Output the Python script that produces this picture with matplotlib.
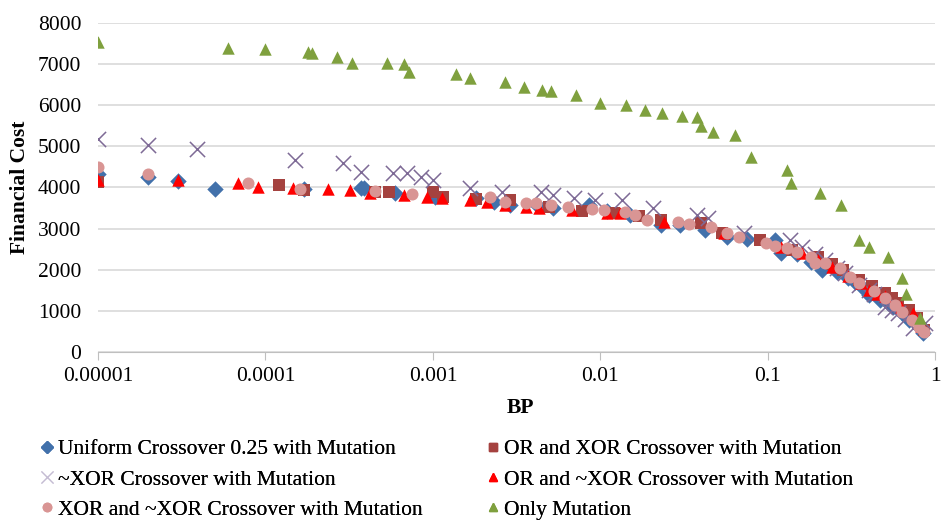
import matplotlib
matplotlib.use("Agg")
import matplotlib.pyplot as plt
from matplotlib.lines import Line2D

plt.rcParams['font.family'] = ['Liberation Serif', 'DejaVu Serif']

# podaci (BP, financijski trosak) procitani sa slike
uni_bp = [1e-5, 2e-5, 3e-5, 5e-5, 1.7e-4, 3.7e-4, 3.9e-4, 5.9e-4, 1.03e-3, 1.8e-3, 2.3e-3,
          2.9e-3, 4.2e-3, 5.2e-3, 8.5e-3, 0.011, 0.015, 0.023, 0.03, 0.042, 0.057, 0.075,
          0.11, 0.12, 0.15, 0.18, 0.21, 0.26, 0.3, 0.33, 0.37, 0.4, 0.47, 0.52, 0.56, 0.63,
          0.7, 0.84]
uni_cost = [4330, 4260, 4160, 3960, 3960, 3990, 3980, 3870, 3780, 3740, 3650,
            3580, 3580, 3500, 3580, 3430, 3330, 3090, 3100, 2970, 2800, 2750,
            2720, 2410, 2380, 2200, 2000, 1950, 1800, 1700, 1550, 1390, 1270, 1180, 1100, 950,
            780, 460]

orxor_bp = [1e-5, 1.2e-4, 1.7e-4, 4.5e-4, 5.5e-4, 1.0e-3, 1.15e-3, 1.8e-3, 2.9e-3, 4.9e-3,
            7.8e-3, 0.012, 0.017, 0.023, 0.04, 0.053, 0.09, 0.14, 0.2, 0.24, 0.28, 0.35, 0.42,
            0.5, 0.55, 0.6, 0.7, 0.78, 0.85]
orxor_cost = [4130, 4060, 3940, 3880, 3880, 3880, 3780, 3720, 3700, 3530,
              3430, 3380, 3300, 3210, 3130, 2890, 2720, 2480, 2310, 2150, 2000, 1750, 1600,
              1430, 1320, 1200, 1020, 820, 540]

nxor_bp = [1e-5, 2e-5, 3.9e-5, 1.5e-4, 2.9e-4, 3.7e-4, 5.8e-4, 7e-4, 8.5e-4, 1e-3, 1.67e-3,
           2.6e-3, 4.4e-3, 5.2e-3, 7e-3, 9.3e-3, 0.0134, 0.0205, 0.0377, 0.044, 0.072,
           0.135, 0.16, 0.19, 0.22, 0.26, 0.29, 0.35, 0.4, 0.43, 0.5, 0.55, 0.6, 0.66, 0.73, 0.87]
nxor_cost = [5180, 5040, 4940, 4670, 4600, 4380, 4350, 4350, 4260, 4180, 3990,
             3890, 3890, 3820, 3740, 3700, 3700, 3500, 3330, 3260, 2890,
             2720, 2560, 2380, 2240, 2050, 1920, 1630, 1500, 1400, 1100, 1020, 950, 800, 580, 700]

ornxor_bp = [1e-5, 3e-5, 6.9e-5, 9e-5, 1.47e-4, 2.35e-4, 3.2e-4, 4.2e-4, 6.7e-4, 9.2e-4,
             1.13e-3, 1.67e-3, 2.1e-3, 2.7e-3, 3.6e-3, 4.3e-3, 6.8e-3, 0.011, 0.013, 0.024,
             0.055, 0.12, 0.16, 0.2, 0.24, 0.3, 0.36, 0.4, 0.45, 0.5, 0.62, 0.73, 0.82]
ornxor_cost = [4180, 4180, 4110, 4010, 3990, 3960, 3940, 3870, 3820, 3780,
               3740, 3700, 3650, 3580, 3530, 3500, 3450, 3380, 3380, 3160,
               2890, 2560, 2400, 2240, 2070, 1850, 1680, 1510, 1420, 1350, 1100, 950, 620]

xornxor_bp = [1e-5, 2e-5, 7.9e-5, 1.6e-4, 4.5e-4, 7.5e-4, 2.2e-3, 2.7e-3, 3.6e-3, 4.1e-3,
              5.1e-3, 6.4e-3, 8.9e-3, 0.0105, 0.014, 0.016, 0.019, 0.029, 0.034, 0.046,
              0.057, 0.067, 0.097, 0.11, 0.13, 0.15, 0.18, 0.19, 0.22, 0.27, 0.31, 0.35,
              0.43, 0.5, 0.57, 0.63, 0.72, 0.8, 0.85]
xornxor_cost = [4500, 4330, 4110, 3970, 3920, 3840, 3780, 3650, 3630, 3630,
                3580, 3530, 3480, 3450, 3410, 3330, 3210, 3160, 3110, 3040,
                2890, 2800, 2650, 2580, 2530, 2430, 2310, 2170, 2170, 2040, 1830, 1680,
                1480, 1310, 1140, 970, 780, 600, 490]

mut_bp = [1e-5, 5.96e-5, 1e-4, 1.8e-4, 1.9e-4, 2.67e-4, 3.3e-4, 5.3e-4, 6.7e-4, 7.2e-4,
          1.37e-3, 1.67e-3, 2.7e-3, 3.5e-3, 4.5e-3, 5.1e-3, 7.1e-3, 0.01, 0.0143, 0.0184,
          0.0233, 0.0305, 0.0377, 0.0398, 0.047, 0.064, 0.079, 0.13, 0.137, 0.204, 0.274,
          0.35, 0.4, 0.52, 0.63, 0.67, 0.81]
mut_cost = [7540, 7400, 7370, 7300, 7280, 7180, 7030, 7030, 7010, 6810,
            6760, 6670, 6570, 6450, 6370, 6350, 6260, 6060, 6010, 5890,
            5810, 5740, 5720, 5500, 5350, 5280, 4740, 4430, 4110, 3870, 3580,
            2720, 2560, 2310, 1800, 1410, 830]

labels = ['Uniform Crossover 0.25 with Mutation', 'OR and XOR Crossover with Mutation',
          '~XOR Crossover with Mutation', 'OR and ~XOR Crossover with Mutation',
          'XOR and ~XOR Crossover with Mutation', 'Only Mutation']

fig = plt.figure(figsize=(9.42, 5.23), dpi=100)
ax = fig.add_axes([0.104, 0.327, 0.889, 0.629])

ax.scatter(uni_bp, uni_cost, marker='D', s=70, color='#4271AB', linewidths=0, zorder=3)
ax.scatter(orxor_bp, orxor_cost, marker='s', s=70, color='#A5423F', linewidths=0, zorder=3)
ax.scatter(nxor_bp, nxor_cost, marker='x', s=120, color='#7E6A96', linewidths=1.1, zorder=3)
ax.scatter(ornxor_bp, ornxor_cost, marker='^', s=80, color='#FF0000', linewidths=0, zorder=3)
ax.scatter(xornxor_bp, xornxor_cost, marker='o', s=75, color='#D99594', linewidths=0, zorder=3)
ax.scatter(mut_bp, mut_cost, marker='^', s=80, color='#7FA03E', linewidths=0, zorder=3)

ax.set_xscale('log')
ax.set_xlim(1e-5, 1)
ax.set_ylim(0, 8000)
ax.set_xticks([1e-5, 1e-4, 1e-3, 1e-2, 1e-1, 1])
ax.set_xticklabels(['0.00001', '0.0001', '0.001', '0.01', '0.1', '1'])
ax.minorticks_off()
ax.set_yticks(range(0, 8001, 1000))
ax.grid(axis='y', color='#D9D9D9', linewidth=1.2, zorder=0)
ax.set_axisbelow(True)
for side in ['left', 'right', 'top']:
    ax.spines[side].set_visible(False)
ax.spines['bottom'].set_color('#BFBFBF')
ax.tick_params(axis='x', colors='#BFBFBF', length=6, labelcolor='black', labelsize=15.5, pad=5)
ax.tick_params(axis='y', length=0, labelsize=15.5, pad=12)

fig.text(0.552, 0.219, 'BP', ha='center', va='center', fontsize=15.5, fontweight='bold')
fig.text(0.021, 0.642, 'Financial Cost', ha='center', va='center', rotation=90,
         fontsize=15.5, fontweight='bold')

# legenda u dva stupca
hnd = [
    Line2D([], [], ls='', marker='D', ms=6, color='#4271AB'),
    Line2D([], [], ls='', marker='s', ms=5.5, color='#A5423F'),
    Line2D([], [], ls='', marker='x', ms=8, mew=0.8, color='#C5BCD3'),
    Line2D([], [], ls='', marker='^', ms=6, color='#FF0000'),
    Line2D([], [], ls='', marker='o', ms=6, color='#D99594'),
    Line2D([], [], ls='', marker='^', ms=6, color='#7FA03E'),
]
for col, x0 in [(0, 0.0435), (1, 0.517)]:
    idx = [col, col + 2, col + 4]
    leg = fig.legend([hnd[i] for i in idx], [labels[i] for i in idx], loc='upper left',
                     bbox_to_anchor=(x0, 0.16), frameon=False, fontsize=15.5,
                     handlelength=0.6, handletextpad=0.2, labelspacing=0.47,
                     borderpad=0, borderaxespad=0)
    fig.add_artist(leg)

fig.savefig('out.png', dpi=100)
